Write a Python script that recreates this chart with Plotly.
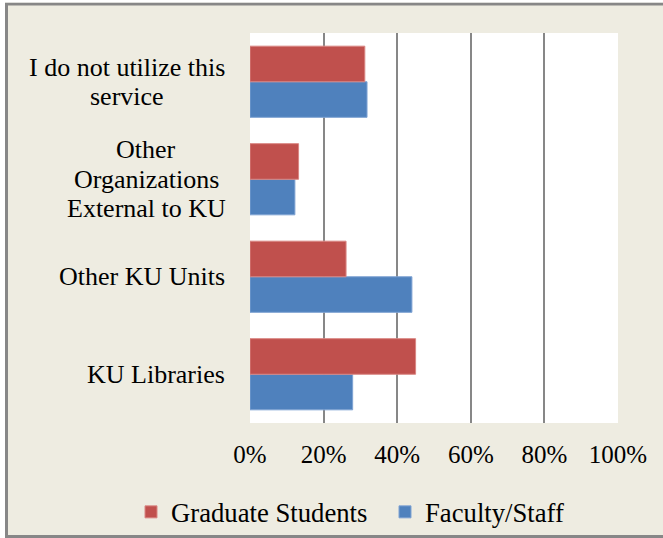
import plotly.graph_objects as go

categories = ["KU Libraries", "Other KU Units",
              "Other Organizations External to KU", "I do not utilize this service"]
category_label_lines = [["KU Libraries"], ["Other KU Units"],
                        ["Other", "Organizations", "External to KU"],
                        ["I do not utilize this", "service"]]
graduate_students = [45.0, 26.1, 13.2, 31.2]
faculty_staff = [27.9, 44.0, 12.2, 31.8]
x_ticks = [0, 20, 40, 60, 80, 100]
x_tick_labels = ["0%", "20%", "40%", "60%", "80%", "100%"]
series_names = ["Graduate Students", "Faculty/Staff"]

RED = "#C0504D"
BLUE = "#4F81BD"
BEIGE = "#EEECE1"
GRID = "#878787"
FONT = "Liberation Serif, Times New Roman, serif"

W, H = 663, 538
ML, MR, MT, MB = 250, 45, 33, 115
PW, PH = W - ML - MR, H - MT - MB
LABEL_RIGHT_PX = 227
LINE_STEP = 29.5
# horizontal centre (px) of multi-line label blocks (lines centred on each other)
BLOCK_CENTER_PX = {2: 146, 3: 126.5}

def px_x(p):
    return (p - ML) / PW

def px_y(p):
    return 1 - (p - MT) / PH

fig = go.Figure()
fig.add_trace(go.Bar(y=categories, x=faculty_staff, orientation="h", name=series_names[1],
                     marker=dict(color=BLUE, line=dict(color="#7FA3D3", width=1))))
fig.add_trace(go.Bar(y=categories, x=graduate_students, orientation="h", name=series_names[0],
                     marker=dict(color=RED, line=dict(color="#D98683", width=1))))

annotations = []
for ci, (cat, lines) in enumerate(zip(categories, category_label_lines)):
    n = len(lines)
    for li, line in enumerate(lines):
        yshift = -((li - (n - 1) / 2) * LINE_STEP)
        if n == 1:
            ax, anchor = px_x(LABEL_RIGHT_PX), "right"
        else:
            ax, anchor = px_x(BLOCK_CENTER_PX[ci]), "center"
        annotations.append(dict(x=ax, xref="paper", y=cat, yref="y", text=line,
                                showarrow=False, xanchor=anchor, yanchor="middle",
                                yshift=yshift,
                                font=dict(family=FONT, size=26, color="black")))

shapes = [
    dict(type="rect", xref="paper", yref="paper", layer="above",
         x0=px_x(6.5), x1=px_x(680), y0=px_y(536.5), y1=px_y(4),
         line=dict(color="#878787", width=3), fillcolor="rgba(0,0,0,0)"),
    dict(type="rect", xref="paper", yref="paper", layer="above",
         x0=px_x(-2), x1=px_x(680), y0=px_y(2.5), y1=px_y(-2),
         line=dict(width=0), fillcolor="white"),
    dict(type="rect", xref="paper", yref="paper", layer="above",
         x0=px_x(-2), x1=px_x(5), y0=px_y(540), y1=px_y(-2),
         line=dict(width=0), fillcolor="white"),
]

fig.update_layout(
    width=W, height=H,
    margin=dict(l=ML, r=MR, t=MT, b=MB, autoexpand=False),
    paper_bgcolor=BEIGE, plot_bgcolor="white",
    barmode="group", bargap=0.27, bargroupgap=0,
    font=dict(family=FONT, size=26, color="black"),
    showlegend=True,
    legend=dict(orientation="h", traceorder="reversed", x=px_x(131), xanchor="left",
                y=px_y(512), yanchor="middle", font=dict(family=FONT, size=26.7),
                bgcolor="rgba(0,0,0,0)", itemwidth=30, tracegroupgap=0,
                entrywidth=209),
    annotations=annotations,
    shapes=shapes,
)
fig.update_xaxes(range=[0, 100], tickvals=x_ticks, ticktext=x_tick_labels,
                 showgrid=True, gridcolor=GRID, gridwidth=2, zeroline=False, showline=False,
                 ticks="outside", ticklen=0, ticklabelstandoff=9,
                 tickfont=dict(family=FONT, size=25, color="black"), fixedrange=True)
fig.update_yaxes(showticklabels=False, showgrid=False, zeroline=False, showline=False,
                 categoryorder="array", categoryarray=categories, fixedrange=True)

fig.write_html("out.html", config={"displayModeBar": False},
               post_script="document.body.style.margin='0';")
